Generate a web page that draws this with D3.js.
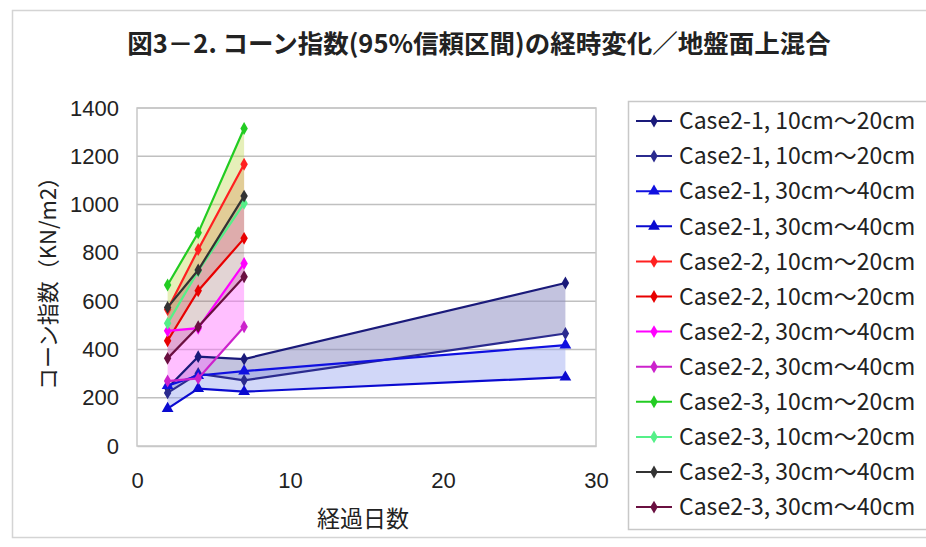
<!DOCTYPE html>
<html>
<head>
<meta charset="utf-8">
<script src="https://cdn.jsdelivr.net/npm/d3@7"></script>
<style>
  html, body { margin: 0; padding: 0; background: #fff; }
  svg { display: block; }
</style>
</head>
<body>
<svg id="chart" width="926" height="547"></svg>
<script>
// Elapsed days at which the cone index was measured
const daysCase21 = [2, 4, 7, 28];
const daysCase22 = [2, 4, 7];
const daysCase23 = [2, 4, 7];

// 95% confidence bounds of the cone index (kN/m2), upper and lower line per depth
const case21_10_20_a = [240, 370, 360, 675];
const case21_10_20_b = [220, 300, 272, 466];
const case21_30_40_a = [250, 292, 310, 418];
const case21_30_40_b = [155, 238, 225, 285];
const case22_10_20_a = [565, 814, 1167];
const case22_10_20_b = [436, 643, 860];
const case22_30_40_a = [477, 488, 756];
const case22_30_40_b = [269, 280, 494];
const case23_10_20_a = [667, 883, 1315];
const case23_10_20_b = [508, 725, 1005];
const case23_30_40_a = [574, 729, 1035];
const case23_30_40_b = [363, 494, 701];

const seriesNames = [
  "Case2-1, 10cm～20cm", "Case2-1, 10cm～20cm",
  "Case2-1, 30cm～40cm", "Case2-1, 30cm～40cm",
  "Case2-2, 10cm～20cm", "Case2-2, 10cm～20cm",
  "Case2-2, 30cm～40cm", "Case2-2, 30cm～40cm",
  "Case2-3, 10cm～20cm", "Case2-3, 10cm～20cm",
  "Case2-3, 30cm～40cm", "Case2-3, 30cm～40cm"
];

const xTicks = [0, 10, 20, 30];
const yTicks = [0, 200, 400, 600, 800, 1000, 1200, 1400];

const titleText = "図3－2. コーン指数(95%信頼区間)の経時変化／地盤面上混合";
const yLabelText = "コーン指数（KN/m2）";
const xLabelText = "経過日数";

// Line style per series
const lineColors = ["#1a1a7a", "#2b2b8f", "#1010e0", "#0a0ad0",
                    "#ff2020", "#e80000", "#ff00ff", "#cc22cc",
                    "#22cc22", "#55f088", "#333333", "#6a1040"];
const markers = ["diamond", "diamond", "triangle", "triangle",
                 "diamond", "diamond", "diamond", "diamond",
                 "diamond", "diamond", "diamond", "diamond"];
// Band fill between each pair of bounds
const bandColors = ["#8888c0", "#9aa6f0", "#f07070", "#ff70ff", "#c0d850", "#a07070"];
const bandOpacity = [0.5, 0.45, 0.4, 0.45, 0.4, 0.3];

const seriesDays = [daysCase21, daysCase21, daysCase21, daysCase21,
                    daysCase22, daysCase22, daysCase22, daysCase22,
                    daysCase23, daysCase23, daysCase23, daysCase23];
const seriesValues = [case21_10_20_a, case21_10_20_b, case21_30_40_a, case21_30_40_b,
                      case22_10_20_a, case22_10_20_b, case22_30_40_a, case22_30_40_b,
                      case23_10_20_a, case23_10_20_b, case23_30_40_a, case23_30_40_b];

const series = seriesNames.map((name, i) => ({
  name,
  color: lineColors[i],
  marker: markers[i],
  points: seriesDays[i].map((d, j) => ({ x: d, y: seriesValues[i][j] }))
}));

const svg = d3.select("#chart");
const W = 926;

// Chart frame
svg.append("rect")
  .attr("x", 12.5).attr("y", 10.5)
  .attr("width", W).attr("height", 527)
  .attr("fill", "#fff").attr("stroke", "#d4d4d4").attr("stroke-width", 1.5);

const plot = { left: 137, right: 596, top: 108, bottom: 446 };

const x = d3.scaleLinear().domain([0, 30]).range([plot.left, plot.right]);
const y = d3.scaleLinear().domain([0, 1400]).range([plot.bottom, plot.top]);

// Title
svg.append("text")
  .attr("x", 479).attr("y", 53)
  .attr("text-anchor", "middle")
  .attr("font-family", "'Noto Sans CJK JP', sans-serif")
  .attr("font-weight", "bold")
  .attr("font-size", 25.5)
  .attr("fill", "#222")
  .text(titleText);

// Horizontal gridlines
svg.append("g")
  .selectAll("line")
  .data(yTicks.filter(t => t > 0))
  .join("line")
  .attr("x1", plot.left).attr("x2", plot.right)
  .attr("y1", d => y(d)).attr("y2", d => y(d))
  .attr("stroke", "#c0c0c0").attr("stroke-width", 1.5);

// Plot frame
svg.append("rect")
  .attr("x", plot.left).attr("y", plot.top)
  .attr("width", plot.right - plot.left).attr("height", plot.bottom - plot.top)
  .attr("fill", "none").attr("stroke", "#c8c8c8").attr("stroke-width", 1.5);

// Axes
const yAxis = d3.axisLeft(y).tickValues(yTicks).tickFormat(d3.format("d"))
  .tickSize(0).tickPadding(18);
const gy = svg.append("g").attr("transform", `translate(${plot.left},0)`).call(yAxis);
gy.select(".domain").remove();
gy.selectAll("text")
  .attr("font-family", "'Liberation Sans', Arial, sans-serif")
  .attr("font-size", 22).attr("fill", "#222");

const xAxis = d3.axisBottom(x).tickValues(xTicks).tickFormat(d3.format("d"))
  .tickSize(0).tickPadding(26);
const gx = svg.append("g").attr("transform", `translate(0,${plot.bottom})`).call(xAxis);
gx.select(".domain").attr("stroke", "#c8c8c8").attr("stroke-width", 1.5);
gx.selectAll("text")
  .attr("font-family", "'Liberation Sans', Arial, sans-serif")
  .attr("font-size", 22).attr("fill", "#222");

// Axis titles
svg.append("text")
  .attr("transform", "translate(56,278) rotate(-90)")
  .attr("text-anchor", "middle")
  .attr("font-family", "'Noto Sans CJK JP', sans-serif")
  .attr("font-size", 22).attr("fill", "#222")
  .text(yLabelText);

svg.append("text")
  .attr("x", 363).attr("y", 527)
  .attr("text-anchor", "middle")
  .attr("font-family", "'Noto Sans CJK JP', sans-serif")
  .attr("font-size", 23).attr("fill", "#222")
  .text(xLabelText);

// Confidence bands between each pair of bounds
const bandG = svg.append("g");
for (let k = 0; k < 6; k++) {
  const a = series[2 * k].points, b = series[2 * k + 1].points;
  const poly = a.concat(b.slice().reverse());
  bandG.append("path")
    .attr("d", d3.line().x(d => x(d.x)).y(d => y(d.y))(poly) + "Z")
    .attr("fill", bandColors[k])
    .attr("fill-opacity", bandOpacity[k])
    .attr("stroke", "none");
}

// Lines and markers
const line = d3.line().x(d => x(d.x)).y(d => y(d.y));
const symDiamond = d3.symbol().type(d3.symbolDiamond).size(48);
const symTriangle = d3.symbol().type(d3.symbolTriangle).size(60);

const lineG = svg.append("g");
series.forEach(s => {
  lineG.append("path")
    .attr("d", line(s.points))
    .attr("fill", "none")
    .attr("stroke", s.color)
    .attr("stroke-width", 2.2);
  lineG.selectAll(null)
    .data(s.points)
    .join("path")
    .attr("transform", d => `translate(${x(d.x)},${y(d.y)})`)
    .attr("d", s.marker === "triangle" ? symTriangle() : symDiamond())
    .attr("fill", s.color);
});

// Legend
const legX = 628, legY = 101;
const legend = svg.append("g");
legend.append("rect")
  .attr("x", legX + 0.5).attr("y", legY + 0.5)
  .attr("width", 320).attr("height", 428)
  .attr("fill", "#fff").attr("stroke", "#c8c8c8").attr("stroke-width", 1.5);

const rowH = 35.1;
series.forEach((s, i) => {
  const cy = 121 + i * rowH;
  legend.append("line")
    .attr("x1", legX + 8).attr("x2", legX + 44)
    .attr("y1", cy).attr("y2", cy)
    .attr("stroke", s.color).attr("stroke-width", 2);
  legend.append("path")
    .attr("transform", `translate(${legX + 26},${cy})`)
    .attr("d", s.marker === "triangle" ? symTriangle() : symDiamond())
    .attr("fill", s.color);
  legend.append("text")
    .attr("x", legX + 51).attr("y", cy)
    .attr("dy", "0.36em")
    .attr("font-family", "'Noto Sans CJK JP', sans-serif")
    .attr("font-size", 23).attr("fill", "#222")
    .text(s.name);
});
</script>
</body>
</html>
